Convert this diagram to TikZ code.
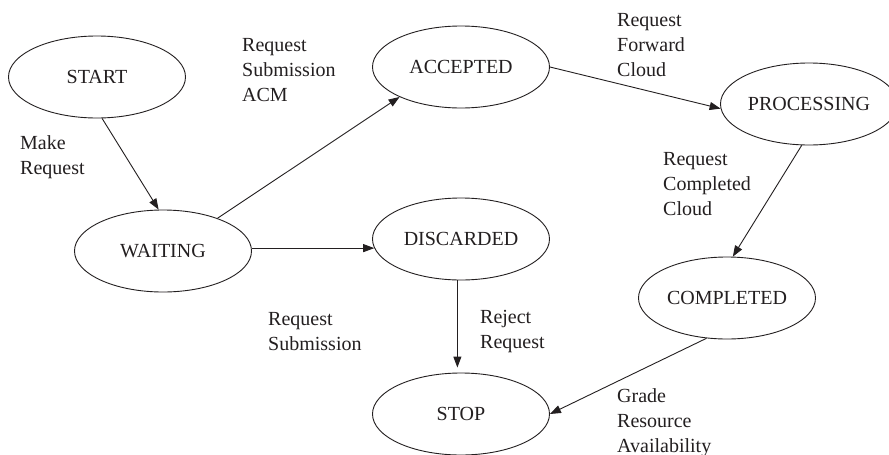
\documentclass[tikz,border=0pt]{standalone}
\usepackage{fontspec}
\setmainfont{Liberation Serif}
\usetikzlibrary{arrows.meta,shapes.geometric}
\definecolor{ink}{HTML}{231F20}
\begin{document}
\begin{tikzpicture}[x=1pt,y=-1pt,
  state/.style={ellipse,draw=ink,text=ink,line width=0.9pt,minimum width=177pt,minimum height=82pt,inner sep=0pt,font=\fontsize{20}{25}\selectfont},
  lbl/.style={anchor=north west,inner sep=0pt,align=left,text=ink,font=\fontsize{20}{25}\selectfont},
  conn/.style={draw=ink,line width=0.9pt,-{Triangle[length=11pt,width=8pt]}}]
\clip (0,0) rectangle (889,455);
\fill[white] (0,0) rectangle (889,455);
\node[state] (start) at (97,77) {START};
\node[state] (waiting) at (163,251) {WAITING};
\node[state] (accepted) at (461,67) {ACCEPTED};
\node[state] (discarded) at (461,239) {DISCARDED};
\node[state] (processing) at (809,104) {PROCESSING};
\node[state] (completed) at (727,298) {COMPLETED};
\node[state] (stop) at (461,414) {STOP};

\draw[conn] (start.-83) -- (waiting.96);
\draw[conn] (waiting.31) -- (accepted.206);
\draw[conn] (waiting.east |- discarded.186) -- (discarded.186);
\draw[conn] (accepted.east) -- (processing.183);
\draw[conn] (processing.260) -- (completed.82);
\draw[conn,shorten >=5pt] (discarded.265) -- (discarded.265 |- stop.north);
\draw[conn] (completed.243) -- (stop.east);

\node[lbl] (l1) at (20,135) {Make\\Request};
\node[lbl] (l2) at (242,38) {Request\\Submission\\ACM};
\node[lbl] (l3) at (617,13) {Request\\Forward\\Cloud};
\node[lbl] (l4) at (663,152) {Request\\Completed\\Cloud};
\node[lbl] (l5) at (268,312) {Request\\Submission};
\node[lbl] (l6) at (480,310) {Reject\\Request};
\node[lbl] (l7) at (617,388) {Grade\\Resource\\Availability};
\end{tikzpicture}
\end{document}
